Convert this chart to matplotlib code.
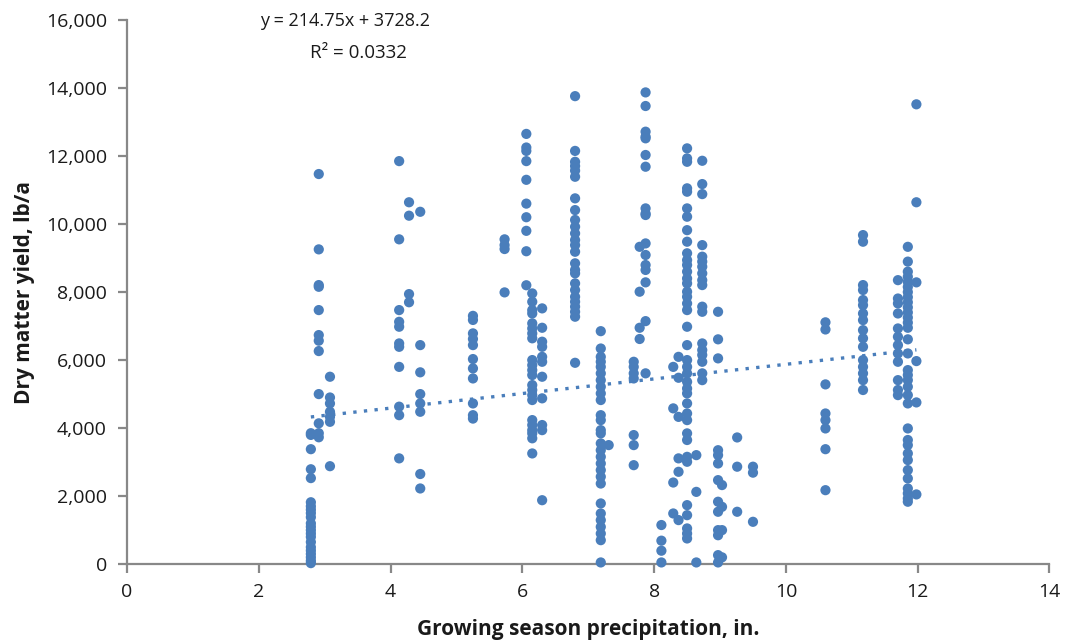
import numpy as np
import matplotlib.pyplot as plt

# precipitation (in.) -> dry matter yield (lb/a), read column by column
col_x = [2.79, 2.91, 3.08, 4.13, 4.28, 4.45, 5.25, 5.73, 6.06, 6.15, 6.30,
         6.80, 7.19, 7.31, 7.69, 7.78, 7.87, 8.11, 8.29, 8.37, 8.50, 8.64,
         8.73, 8.97, 9.03, 9.26, 9.50, 10.60, 11.17, 11.70, 11.85, 11.98]

col_y = [
    [3850, 3800, 3380, 2790, 2530, 1820, 1700, 1600, 1500, 1380, 1200, 1100,
     1000, 900, 800, 650, 500, 400, 300, 200, 100, 30],
    [11470, 9255, 8205, 8155, 7470, 6735, 6570, 6265, 5000, 4140, 3850, 3730],
    [5510, 4900, 4725, 4480, 4330, 4185, 2880],
    [11850, 9550, 7470, 7125, 6980, 6490, 6390, 5800, 4630, 4380, 3110],
    [10640, 10245, 7940, 7700],
    [10360, 6440, 5640, 5000, 4725, 4480, 2650, 2225],
    [7300, 7180, 6785, 6620, 6440, 6030, 5755, 5460, 4725, 4380, 4280],
    [9550, 9380, 9265, 7990],
    [12650, 12250, 12150, 11850, 11300, 10600, 10200, 9800, 9200, 8200],
    [7960, 7715, 7470, 7370, 7080, 6930, 6785, 6640, 6000, 5850, 5705, 5560,
     5265, 5120, 4970, 4825, 4235, 4090, 3940, 3845, 3700, 3255],
    [7520, 6950, 6540, 6390, 6095, 5950, 5510, 4875, 4090, 3940, 1880],
    [13760, 12150, 11830, 11705, 11570, 11390, 10755, 10410, 10120, 9920,
     9725, 9530, 9380, 9185, 8845, 8650, 8550, 8255, 8060, 7860, 7715, 7570,
     7420, 7275, 5920],
    [6850, 6340, 6095, 5950, 5800, 5610, 5410, 5215, 5020, 4825, 4380, 4235,
     3940, 3845, 3550, 3350, 3155, 2960, 2765, 2570, 2370, 1785, 1490, 1295,
     1095, 900, 705, 50],
    [3500],
    [5950, 5800, 5610, 5460, 3795, 3500, 2910],
    [9330, 8010, 6950, 6620],
    [13870, 13470, 12715, 12570, 12520, 12030, 11685, 10460, 10310, 10265,
     9430, 9090, 8795, 8650, 8285, 7145, 5610],
    [1150, 690, 395, 50],
    [5800, 4580, 2400, 1490],
    [6095, 5480, 4330, 3110, 2715, 1295],
    [12225, 11930, 11830, 11050, 10950, 10460, 10215, 9820, 9480, 9140, 8940,
     8795, 8600, 8400, 8255, 8010, 7860, 7665, 7470, 6980, 6440, 6000, 5800,
     5610, 5360, 5165, 5020, 4725, 4430, 4235, 3845, 3650, 3155, 3010, 1735,
     1440, 1050, 900, 755],
    [3205, 2125, 50],
    [11860, 11175, 10880, 9380, 9040, 8895, 8745, 8550, 8350, 8205, 7570,
     7420, 6490, 6295, 6150, 5950, 5610, 5410],
    [7420, 6610, 6050, 3350, 3205, 2960, 2470, 1835, 1540, 1000, 850, 265, 50],
    [2325, 1685, 1000, 200],
    [3725, 2865, 1540],
    [2865, 2690, 1245],
    [7110, 6900, 5285, 4430, 4235, 3990, 3380, 2175],
    [9675, 9480, 8205, 8060, 7765, 7615, 7370, 7175, 6880, 6640, 6390, 6000,
     5800, 5610, 5410, 5120],
    [8350, 7810, 7665, 7370, 6930, 6685, 6440, 6195, 5950, 5410, 5120, 4970],
    [9330, 8895, 8600, 8450, 8300, 8150, 8000, 7850, 7700, 7550, 7400, 7250,
     7100, 6950, 6610, 6195, 5705, 5560, 5410, 5215, 4970, 4725, 3990, 3650,
     3500, 3255, 3060, 2765, 2520, 2225, 2080, 1930, 1835],
    [13520, 10640, 8285, 5970, 4755, 2050],
]

# linear trend as printed on the chart
slope = 214.75
intercept = 3728.2
r2 = 0.0332

x_ticks = [0, 2, 4, 6, 8, 10, 12, 14]
y_ticks = [0, 2000, 4000, 6000, 8000, 10000, 12000, 14000, 16000]

plt.rcParams['font.family'] = ['Open Sans', 'DejaVu Sans']

xs = np.concatenate([[cx] * len(cy) for cx, cy in zip(col_x, col_y)])
ys = np.concatenate([np.array(cy, dtype=float) for cy in col_y])

fig = plt.figure(figsize=(10.72, 6.44), dpi=100)
ax = fig.add_axes([0.1185, 0.124, 0.8605, 0.845])

blue = '#4a7ebb'
axis_gray = '#888888'
text_col = '#1a1a1a'

ax.scatter(xs, ys, s=54, color=blue, edgecolors='none', zorder=3, clip_on=False)

# dotted trendline over the data range
xt = np.array([xs.min(), xs.max()])
ax.plot(xt, slope * xt + intercept, linestyle=(0, (1, 2.2)), color=blue,
        linewidth=2.4, zorder=2)

ax.set_xlim(0, 14)
ax.set_ylim(0, 16000)
ax.set_xticks(x_ticks)
ax.set_yticks(y_ticks)
ax.set_xticklabels([str(t) for t in x_ticks])
ax.set_yticklabels([f'{t:,}' for t in y_ticks])

for side in ['top', 'right']:
    ax.spines[side].set_visible(False)
for side in ['left', 'bottom']:
    ax.spines[side].set_color(axis_gray)
    ax.spines[side].set_linewidth(1.6)
ax.tick_params(axis='both', direction='out', length=6.5, width=1.6,
               color=axis_gray, labelsize=14, labelcolor=text_col)
ax.tick_params(axis='y', pad=8)
ax.tick_params(axis='x', pad=7)

ax.set_xlabel('Growing season precipitation, in.', fontsize=15,
              fontweight='bold', labelpad=13, color=text_col)
ax.set_ylabel('Dry matter yield, lb/a', fontsize=15, fontweight='bold',
              labelpad=8, color=text_col)

fig.text(0.322, 0.968, f'y = {slope}x + {intercept}', fontsize=13,
         ha='center', va='center', color=text_col)
fig.text(0.334, 0.918, f'R² = {r2}', fontsize=13.5, ha='center',
         va='center', color=text_col)

fig.savefig('out.png', dpi=100)
